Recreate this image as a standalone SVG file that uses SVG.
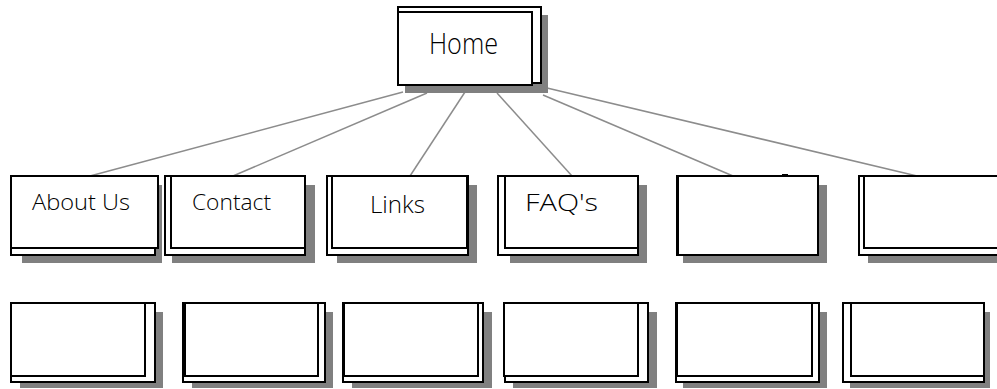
<svg xmlns="http://www.w3.org/2000/svg" width="997" height="389" viewBox="0 0 997 389">
<style>
.shadow{fill:#808080}
.card{fill:#fff;stroke:#000;stroke-width:2}
.link{stroke:#8c8c8c;stroke-width:1.5;fill:none}
.label{font-family:"Open Sans","Noto Sans",sans-serif;font-weight:300;fill:#000}
</style>
<rect width="997" height="389" fill="#fff"/>
<g id="connectors">
<line class="link" x1="403" y1="92" x2="90" y2="176"/>
<line class="link" x1="427" y1="93" x2="233" y2="176"/>
<line class="link" x1="465" y1="92" x2="410" y2="176"/>
<line class="link" x1="497" y1="93" x2="572" y2="176"/>
<line class="link" x1="543" y1="95" x2="733" y2="176"/>
<line class="link" x1="547" y1="88" x2="917" y2="176"/>
</g>
<g id="home">
<rect class="shadow" x="405" y="15" width="143" height="78"/>
<rect class="card" x="398" y="7" width="143" height="76"/>
<rect class="card" x="398" y="12" width="134" height="73"/>
<text class="label" x="429" y="54" font-size="29" textLength="69" lengthAdjust="spacingAndGlyphs">Home</text>
</g>
<g id="about">
<rect class="shadow" x="22" y="185" width="140" height="78"/>
<rect class="card" x="11" y="176" width="144" height="79"/>
<rect class="card" x="11" y="176" width="147" height="72"/>
<text class="label" x="32" y="210" font-size="22" textLength="98" lengthAdjust="spacingAndGlyphs">About Us</text>
</g>
<g id="contact">
<rect class="shadow" x="172" y="185" width="143" height="78"/>
<rect class="card" x="165" y="176" width="140" height="79"/>
<rect class="card" x="171" y="176" width="134" height="72"/>
<text class="label" x="192" y="210" font-size="22" textLength="79" lengthAdjust="spacingAndGlyphs">Contact</text>
</g>
<g id="links">
<rect class="shadow" x="337" y="185" width="140" height="78"/>
<rect class="card" x="327" y="176" width="141" height="79"/>
<rect class="card" x="332" y="176" width="135" height="72"/>
<text class="label" x="370" y="213" font-size="24" textLength="55" lengthAdjust="spacingAndGlyphs">Links</text>
</g>
<g id="faq">
<rect class="shadow" x="510" y="185" width="137" height="78"/>
<rect class="card" x="498" y="176" width="140" height="79"/>
<rect class="card" x="505" y="176" width="133" height="72"/>
<text class="label" x="525" y="211" font-size="23" textLength="73" lengthAdjust="spacingAndGlyphs">FAQ's</text>
</g>
<g id="node5">
<rect class="shadow" x="683" y="185" width="144" height="78"/>
<rect class="card" x="677" y="176" width="141" height="79"/>
<line x1="677.5" y1="176" x2="677.5" y2="255" stroke="#000" stroke-width="3"/>
<rect x="782" y="174" width="6" height="3" fill="#000"/>
</g>
<g id="node6">
<rect class="shadow" x="868" y="185" width="140" height="78"/>
<rect class="card" x="859" y="176" width="150" height="79"/>
<rect class="card" x="864" y="176" width="145" height="72"/>
</g>
<g id="child1">
<rect class="shadow" x="20" y="312" width="143" height="76"/>
<rect class="card" x="11" y="303" width="144" height="79"/>
<rect class="card" x="11" y="303" width="134" height="73"/>
</g>
<g id="child2">
<rect class="shadow" x="192" y="312" width="141" height="76"/>
<rect class="card" x="183" y="303" width="142" height="79"/>
<rect class="card" x="185" y="303" width="133" height="73"/>
</g>
<g id="child3">
<rect class="shadow" x="352" y="312" width="140" height="76"/>
<rect class="card" x="343" y="303" width="140" height="79"/>
<rect class="card" x="344" y="303" width="134" height="73"/>
</g>
<g id="child4">
<rect class="shadow" x="513" y="312" width="144" height="76"/>
<rect class="card" x="505" y="303" width="143" height="79"/>
<rect class="card" x="504" y="303" width="134" height="73"/>
</g>
<g id="child5">
<rect class="shadow" x="683" y="312" width="144" height="76"/>
<rect class="card" x="676" y="303" width="143" height="79"/>
<rect class="card" x="677" y="303" width="135" height="73"/>
</g>
<g id="child6">
<rect class="shadow" x="850" y="312" width="140" height="76"/>
<rect class="card" x="843" y="303" width="141" height="79"/>
<rect class="card" x="851" y="303" width="133" height="73"/>
</g>
</svg>
